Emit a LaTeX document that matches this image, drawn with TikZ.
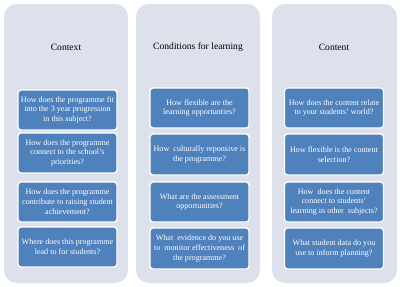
\documentclass[tikz,border=0pt]{standalone}
\usepackage{fontspec}
\setmainfont{Liberation Serif}
\definecolor{panelc}{HTML}{DCE1EC}
\definecolor{boxc}{HTML}{4F81BD}
\begin{document}
\begin{tikzpicture}[x=1pt,y=-1pt,
  panel/.style={fill=panelc, rounded corners=13pt},
  qbox/.style={draw=white, line width=1.3pt, fill=boxc, rounded corners=3pt,
    text=white, align=center, font=\fontsize{8.1}{9.8}\selectfont,
    minimum width=99pt, minimum height=40pt, inner sep=0pt},
  ttl/.style={font=\fontsize{9.6}{11}\selectfont, text=black}]
\useasboundingbox (0,0) rectangle (400,287);
\fill[white] (0,0) rectangle (400,287);
% panels
\fill[panel] (4,4) rectangle (128,283);
\fill[panel] (136,4) rectangle (260,283);
\fill[panel] (272,4) rectangle (397,283);
% titles
\node[ttl] (t1) at (66,47) {Context};
\node[ttl] (t2) at (198,47) {Conditions for learning};
\node[ttl] (t3) at (334,47) {Content};
% column 1
\node[qbox] (a1) at (67.5,110) {How does the programme fit\\into the 3 year progression\\in this subject?};
\node[qbox] (a2) at (67.5,153) {How does the programme\\connect to the school's\\priorities?};
\node[qbox] (a3) at (67.5,202) {How does the programme\\contribute to raising student\\achievement?};
\node[qbox] (a4) at (67.5,247) {Where does this programme\\lead to for students?};
% column 2
\node[qbox] (b1) at (199.5,108) {How flexible are the\\learning opportunties?};
\node[qbox, minimum height=41pt] (b2) at (199.5,154.5) {How\ \ culturally reponsive is\\the programme?};
\node[qbox] (b3) at (199.5,202) {What are the assessment\\opportunities?};
\node[qbox, minimum height=41pt] (b4) at (199.5,248.5) {What\ \ evidence do you use\\to\ \ monitor effectiveness\ \ of\\the programme?};
% column 3
\node[qbox] (c1) at (334,108) {How does the content relate\\to your students' world?};
\node[qbox, minimum height=41pt] (c2) at (334,154.5) {How flexible is the content\\selection?};
\node[qbox] (c3) at (334,202) {How\ \ does the content\\connect to students'\\learning in other\ \ subjects?};
\node[qbox, minimum height=41pt] (c4) at (334,248.5) {What student data do you\\use to inform planning?};
\end{tikzpicture}
\end{document}
